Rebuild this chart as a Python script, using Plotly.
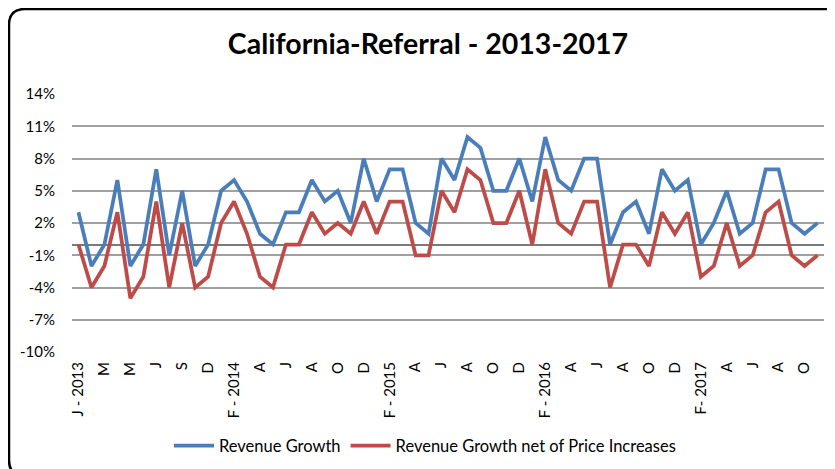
import plotly.graph_objects as go

# ---- data ----
months = (
    [f"{m} 2013" for m in ["Jan", "Feb", "Mar", "Apr", "May", "Jun", "Jul", "Aug", "Sep", "Nov", "Dec"]]
    + [f"{m} 2014" for m in ["Jan", "Feb", "Mar", "Apr", "May", "Jun", "Jul", "Aug", "Sep", "Oct", "Nov", "Dec"]]
    + [f"{m} 2015" for m in ["Jan", "Feb", "Mar", "Apr", "May", "Jun", "Jul", "Aug", "Sep", "Oct", "Nov", "Dec"]]
    + [f"{m} 2016" for m in ["Jan", "Feb", "Mar", "Apr", "May", "Jun", "Jul", "Aug", "Sep", "Oct", "Nov", "Dec"]]
    + [f"{m} 2017" for m in ["Jan", "Feb", "Mar", "Apr", "May", "Jun", "Jul", "Aug", "Sep", "Oct", "Nov"]]
)

revenue_growth = [
    3, -2, 0, 6, -2, 0, 7, -1, 5, -2, 0, 5, 6, 4, 1, 0, 3, 3, 6, 4,
    5, 2, 8, 4, 7, 7, 2, 1, 8, 6, 10, 9, 5, 5, 8, 4, 10, 6, 5, 8,
    8, 0, 3, 4, 1, 7, 5, 6, 0, 2, 5, 1, 2, 7, 7, 2, 1, 2,
]

revenue_growth_net = [
    0, -4, -2, 3, -5, -3, 4, -4, 2, -4, -3, 2, 4, 1, -3, -4, 0, 0, 3, 1,
    2, 1, 4, 1, 4, 4, -1, -1, 5, 3, 7, 6, 2, 2, 5, 0, 7, 2, 1, 4,
    4, -4, 0, 0, -2, 3, 1, 3, -3, -2, 2, -2, -1, 3, 4, -1, -2, -1,
]

tick_labels = [
    "J - 2013", "M", "M", "J", "S", "D", "F - 2014", "A", "J", "A", "O", "D",
    "F - 2015", "A", "J", "A", "O", "D", "F - 2016", "A", "J", "A", "O", "D",
    "F- 2017", "A", "J", "A", "O",
]

y_ticks = [-10, -7, -4, -1, 2, 5, 8, 11, 14]
y_tick_text = [f"{v}%" for v in y_ticks]

# ---- layout geometry (pixels; page body has an 8px margin) ----
OFF = 8
W, H = 835 - OFF, 469 - OFF
ML, MR, MT, MB = 72 - OFF, 11, 94 - OFF, 117
PW, PH = W - ML - MR, H - MT - MB


def px(x):
    return (x - OFF - ML) / PW


def py(y):
    return (H - MB - (y - OFF)) / PH


FONT = "Lato"

fig = go.Figure()
fig.add_trace(go.Scatter(
    x=months, y=revenue_growth, mode="lines", name="Revenue Growth",
    line=dict(color="#4A7EBB", width=3.75),
))
fig.add_trace(go.Scatter(
    x=months, y=revenue_growth_net, mode="lines", name="Revenue Growth net of Price Increases",
    line=dict(color="#BE4B48", width=3.75),
))

# rounded border
x0, y0, x1, y1, r = px(9), py(9), px(842), py(476), 16
rx, ry = r / PW, r / PH
path = (
    f"M {x0 + rx} {y0} L {x1 - rx} {y0} Q {x1} {y0} {x1} {y0 - ry} "
    f"L {x1} {y1 + ry} Q {x1} {y1} {x1 - rx} {y1} "
    f"L {x0 + rx} {y1} Q {x0} {y1} {x0} {y1 + ry} "
    f"L {x0} {y0 - ry} Q {x0} {y0} {x0 + rx} {y0} Z"
)
fig.add_shape(type="path", path=path, xref="paper", yref="paper",
              line=dict(color="black", width=2.5), layer="above")

fig.update_layout(
    width=W, height=H,
    margin=dict(l=ML, r=MR, t=MT, b=MB),
    paper_bgcolor="white", plot_bgcolor="white",
    font=dict(family=FONT, size=15, color="black"),
    title=dict(text="<b>California-Referral - 2013-2017</b>", x=px(428), xanchor="center",
               xref="paper",
               y=1 - (44 - OFF) / H, yref="container", yanchor="middle",
               font=dict(family=FONT, size=28.5, color="black")),
    showlegend=True,
    legend=dict(orientation="h", x=px(425), xanchor="center", y=1 - (446 - OFF) / H,
                yref="container", yanchor="middle", font=dict(size=16.5),
                itemwidth=40, tracegroupgap=0),
    xaxis=dict(
        type="category", categoryorder="array", categoryarray=months,
        range=[-0.5, len(months) - 0.5],
        tickmode="array", tickvals=months[::2], ticktext=tick_labels,
        tickangle=-90, showgrid=False, showline=False, zeroline=False,
        ticks="", ticklabelstandoff=6,
    ),
    yaxis=dict(
        range=[-10, 14], tickmode="array", tickvals=y_ticks, ticktext=y_tick_text,
        showgrid=True, gridcolor="#a0a0a0", gridwidth=1.5,
        zeroline=True, zerolinecolor="#7a7a7a", zerolinewidth=2,
        showline=False, ticks="", ticklabelstandoff=16,
    ),
)

fig.write_html("out.html")
